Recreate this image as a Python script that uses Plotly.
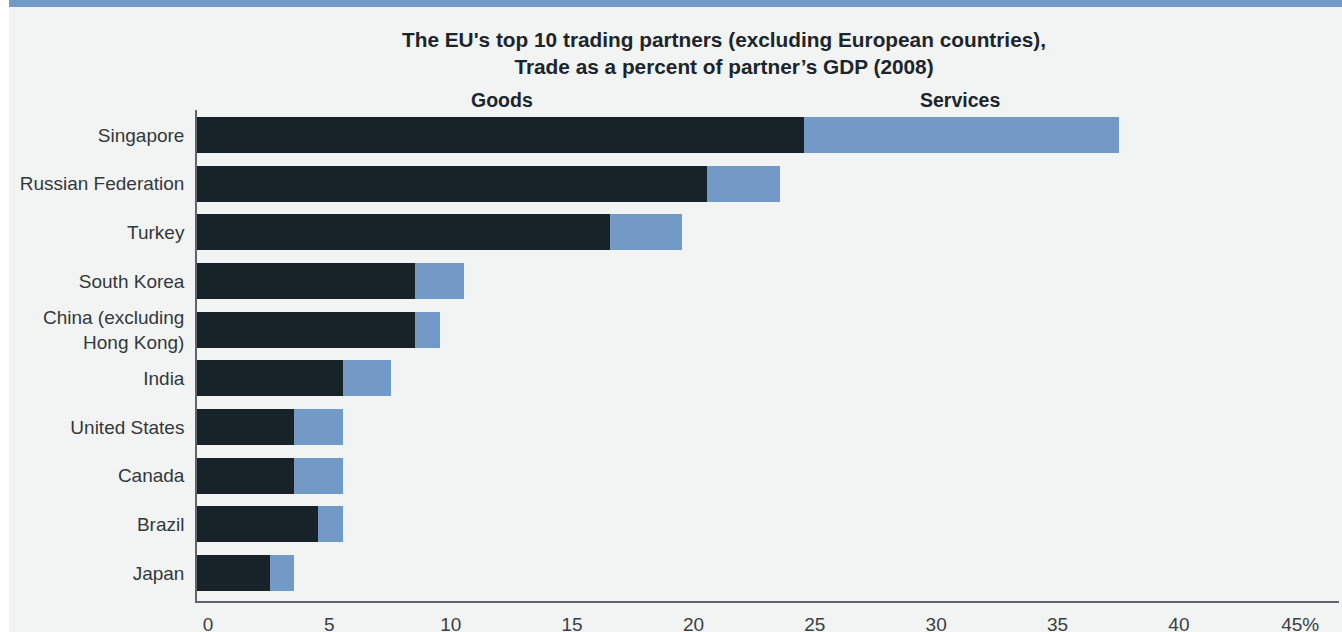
import plotly.graph_objects as go

# ---- data ----
countries = ["Singapore", "Russian Federation", "Turkey", "South Korea",
             "China (excluding<br>Hong Kong)", "India", "United States",
             "Canada", "Brazil", "Japan"]
goods = [25, 21, 17, 9, 9, 6, 4, 4, 5, 3]
services = [13, 3, 3, 2, 1, 2, 2, 2, 1, 1]
tick_vals = [0, 5, 10, 15, 20, 25, 30, 35, 40, 45]
tick_text = ["0", "5", "10", "15", "20", "25", "30", "35", "40", "45%"]
title_line1 = "The EU's top 10 trading partners (excluding European countries),"
title_line2 = "Trade as a percent of partner’s GDP (2008)"
series_names = ["Goods", "Services"]

# ---- style ----
W, H = 1342, 632
L, R, T, B = 197, 3, 110, 31
BG = "#f2f4f3"
DARK = "#172229"
BLUE = "#7399c6"
TXT = "#1c252c"
FONT = "Liberation Sans"

pw = W - L - R
ph = H - T - B


def px_x(px):
    return (px - L) / pw


def px_y(py):
    return (H - B - py) / ph


fig = go.Figure()
fig.add_trace(go.Bar(y=countries, x=goods, name=series_names[0], orientation="h",
                     marker=dict(color=DARK, line=dict(width=0))))
fig.add_trace(go.Bar(y=countries, x=services, name=series_names[1], orientation="h",
                     marker=dict(color=BLUE, line=dict(width=0))))

annotations = [
    dict(text="<b>%s</b><br><b>%s</b>" % (title_line1, title_line2),
         x=px_x(724), y=px_y(53), align="center",
         font=dict(family=FONT, size=20.8, color=TXT)),
    dict(text="<b>%s</b>" % series_names[0], x=px_x(501.5), y=px_y(100),
         font=dict(family=FONT, size=19.5, color=TXT)),
    dict(text="<b>%s</b>" % series_names[1], x=px_x(959.5), y=px_y(100),
         font=dict(family=FONT, size=19.5, color=TXT)),
]
for a in annotations:
    a.update(xref="paper", yref="paper", xanchor="center", yanchor="middle",
             showarrow=False)

shapes = [
    dict(type="rect", xref="paper", yref="paper", x0=px_x(9), x1=px_x(W + 5),
         y0=px_y(7), y1=px_y(-5), fillcolor=BLUE, line=dict(width=0)),
    dict(type="rect", xref="paper", yref="paper", x0=px_x(-5), x1=px_x(9),
         y0=px_y(H + 5), y1=px_y(-5), fillcolor="#ffffff", line=dict(width=0)),
]

fig.update_layout(
    width=W, height=H,
    margin=dict(l=L, r=R, t=T, b=B, pad=0, autoexpand=False),
    paper_bgcolor=BG, plot_bgcolor=BG,
    barmode="stack", bargap=0.26,
    showlegend=False,
    annotations=annotations,
    shapes=shapes,
    font=dict(family=FONT, color="#33383c", size=19),
    xaxis=dict(range=[0, 47.05], tickvals=tick_vals, ticktext=tick_text,
               showgrid=False, zeroline=False, showline=True,
               linecolor="#5f656a", linewidth=1.5, ticks="",
               ticklabelstandoff=5, ticklabelshift=11, automargin=False,
               tickfont=dict(family=FONT, size=19, color="#3a3f44"),
               fixedrange=True),
    yaxis=dict(type="category", range=[9.575, -0.514], showgrid=False,
               zeroline=False, showline=True, linecolor="#5f656a", linewidth=1.5,
               ticks="", ticklabelstandoff=7, automargin=False,
               tickfont=dict(family=FONT, size=19, color="#33383c"),
               fixedrange=True),
)

fig.write_html("out.html",
               config={"displayModeBar": False},
               post_script="document.body.style.margin='0px';document.body.style.overflow='hidden';")
